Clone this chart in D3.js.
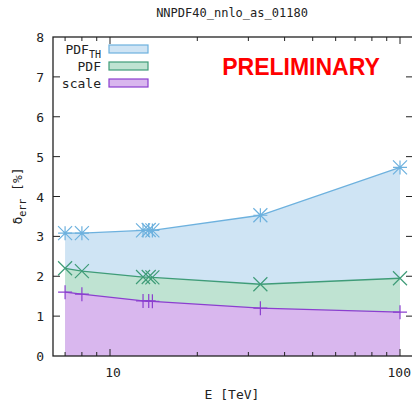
<!DOCTYPE html>
<html><head><meta charset="utf-8">
<script src="https://cdn.jsdelivr.net/npm/d3@7"></script>
<style>body{margin:0;background:#fff}svg{display:block}text{font-family:"DejaVu Sans Mono",monospace;fill:#222}</style>
</head><body><svg id="c" width="412" height="405"></svg>
<script>
const energies = [7, 8, 13, 13.6, 14, 33, 100];
const pdfTh = [3.08, 3.08, 3.15, 3.16, 3.15, 3.53, 4.73];
const pdf = [2.20, 2.13, 1.98, 1.98, 1.97, 1.80, 1.95];
const scale = [1.60, 1.55, 1.38, 1.38, 1.37, 1.20, 1.10];
const yTicks = [0,1,2,3,4,5,6,7,8];
const xMajor = [10, 100];
const xMinor = [7,8,9,20,30,40,50,60,70,80,90];
const series = [
  {name:"PDF", sub:"TH", vals:pdfTh, fill:"#cfe4f4", line:"#6db1de", marker:"star"},
  {name:"PDF", sub:"", vals:pdf, fill:"#bfe3d2", line:"#3f9c78", marker:"x"},
  {name:"scale", sub:"", vals:scale, fill:"#d9b7ee", line:"#8b3fcf", marker:"plus"}
];
const L=53, T=37, R=413, B=356;
const svg=d3.select("#c");
const x=d3.scaleLog().domain([Math.pow(10,1-57/290), Math.pow(10,1+303/290)]).range([L,R]);
const y=d3.scaleLinear().domain([0,8]).range([B,T]);
series.forEach(s=>{
  const d=energies.map((e,i)=>[e,s.vals[i]]);
  svg.append("path").attr("d",d3.area().x(p=>x(p[0])).y0(y(0)).y1(p=>y(p[1]))(d)).attr("fill",s.fill);
});
series.forEach(s=>{
  const d=energies.map((e,i)=>[e,s.vals[i]]);
  svg.append("path").attr("d",d3.line().x(p=>x(p[0])).y(p=>y(p[1]))(d)).attr("fill","none").attr("stroke",s.line).attr("stroke-width",1.3);
  const r=7;
  d.forEach(p=>{
    const cx=x(p[0]), cy=y(p[1]);
    let path="";
    if(s.marker==="plus"||s.marker==="star") path+=`M${cx-r},${cy}H${cx+r}M${cx},${cy-r}V${cy+r}`;
    if(s.marker==="x"||s.marker==="star") path+=`M${cx-r},${cy-r}L${cx+r},${cy+r}M${cx-r},${cy+r}L${cx+r},${cy-r}`;
    svg.append("path").attr("d",path).attr("stroke",s.line).attr("stroke-width",1.2).attr("fill","none");
  });
});
// frame
svg.append("rect").attr("x",L).attr("y",T).attr("width",R-L).attr("height",B-T).attr("fill","none").attr("stroke","#222").attr("stroke-width",1.3);
// y ticks
const g=svg.append("g").attr("stroke","#222").attr("stroke-width",1);
yTicks.forEach(v=>{
  if(v>0&&v<8){
    g.append("line").attr("x1",L).attr("x2",L+7).attr("y1",y(v)).attr("y2",y(v));
    g.append("line").attr("x1",R-7).attr("x2",R).attr("y1",y(v)).attr("y2",y(v));
  }
  svg.append("text").attr("x",44).attr("y",y(v)+5).attr("text-anchor","end").attr("font-size",13).text(v);
});
xMajor.forEach((v,i)=>{
  g.append("line").attr("x1",x(v)).attr("x2",x(v)).attr("y1",B).attr("y2",B-7);
  g.append("line").attr("x1",x(v)).attr("x2",x(v)).attr("y1",T).attr("y2",T+7);
  const last=i===xMajor.length-1;
  svg.append("text").attr("x",last?411:x(v)+3).attr("y",377).attr("text-anchor",last?"end":"middle").attr("font-size",13).text(v);
});
xMinor.forEach(v=>{
  g.append("line").attr("x1",x(v)).attr("x2",x(v)).attr("y1",B).attr("y2",B-4);
  g.append("line").attr("x1",x(v)).attr("x2",x(v)).attr("y1",T).attr("y2",T+4);
});
// title & labels
svg.append("text").attr("x",232).attr("y",17).attr("text-anchor","middle").attr("font-size",12).text("NNPDF40_nnlo_as_01180");
svg.append("text").attr("x",232).attr("y",399).attr("text-anchor","middle").attr("font-size",13).text("E [TeV]");
const yl=svg.append("text").attr("transform","translate(22,196) rotate(-90)").attr("text-anchor","middle").attr("font-size",13);
yl.append("tspan").text("δ");
yl.append("tspan").attr("font-size",10).attr("dy",4).text("err");
yl.append("tspan").attr("dy",-4).text(" [%]");
// PRELIMINARY
svg.append("text").attr("x",301).attr("y",75).attr("text-anchor","middle")
  .style("font-family","'Liberation Sans', Arial, sans-serif").style("font-weight","bold").style("font-size","23px").style("fill","#ff0000").text("PRELIMINARY");
// legend
series.forEach((s,i)=>{
  const cy=49+i*17;
  const t=svg.append("text").attr("x",101).attr("y",cy+4.5).attr("text-anchor","end").attr("font-size",13);
  t.append("tspan").text(s.name);
  if(s.sub) t.append("tspan").attr("font-size",10).attr("dy",4).text(s.sub);
  svg.append("rect").attr("x",109).attr("y",cy-4).attr("width",39).attr("height",8).attr("fill",s.fill).attr("stroke",s.line).attr("stroke-width",1.2);
});
</script></body></html>
